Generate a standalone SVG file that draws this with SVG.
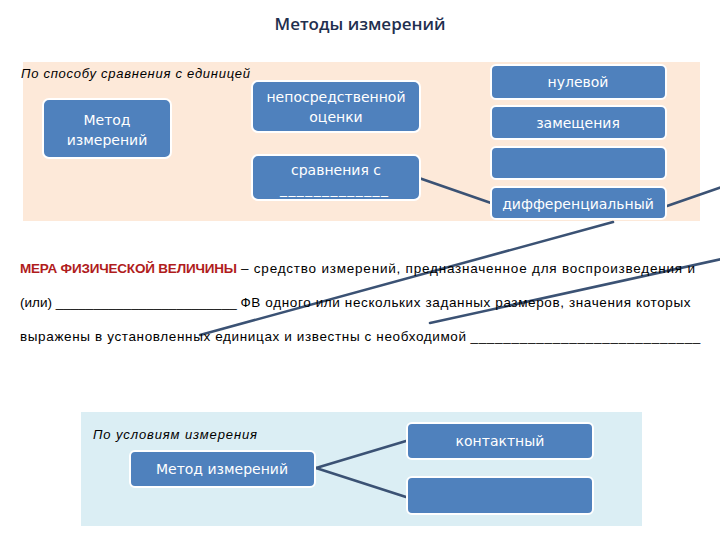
<svg xmlns="http://www.w3.org/2000/svg" width="720" height="540" viewBox="0 0 720 540">
<style>
.box{fill:#4f81bd;stroke:#ffffff;stroke-width:2}
.bt{fill:#ffffff;font-family:"DejaVu Sans",sans-serif;font-size:14px;text-anchor:middle}
.lab{fill:#000;font-family:"Liberation Sans",sans-serif;font-style:italic;font-size:13px}
.par{fill:#000;font-family:"Liberation Sans",sans-serif;font-size:13.5px}
.term{fill:#b01c1c;font-weight:bold}
.con{stroke:#3b5274;stroke-width:2.6;fill:none;stroke-linecap:round}
</style>
<rect width="720" height="540" fill="#ffffff"/>
<text x="360" y="30" text-anchor="middle" font-family="Open Sans, sans-serif" font-weight="600" font-size="16" fill="#1f2f4f" textLength="171" lengthAdjust="spacingAndGlyphs">Методы измерений</text>

<rect x="23" y="62" width="677" height="159" fill="#fde9d9"/>
<rect x="81" y="412" width="561" height="114" fill="#dbeef4"/>

<text class="lab" x="21" y="78" textLength="229">По способу сравнения с единицей</text>
<text class="lab" x="93" y="439" textLength="164">По условиям измерения</text>

<g id="connectors">
<line class="con" x1="419" y1="178" x2="491" y2="203"/>
<line class="con" x1="667" y1="206" x2="722" y2="187"/>
<line class="con" x1="613" y1="222" x2="200" y2="335"/>
<line class="con" x1="722" y1="259" x2="430" y2="323"/>
<line class="con" x1="316" y1="468" x2="406" y2="441"/>
<line class="con" x1="316" y1="468" x2="406" y2="497"/>
</g>

<g id="n-method1">
<rect class="box" x="43" y="99" width="128" height="59" rx="6"/>
<text class="bt" x="107" y="125">Метод</text>
<text class="bt" x="107" y="145">измерений</text>
</g>
<g id="n-direct">
<rect class="box" x="252" y="81" width="168" height="51" rx="6"/>
<text class="bt" x="336" y="102">непосредственной</text>
<text class="bt" x="336" y="122">оценки</text>
</g>
<g id="n-compare">
<rect class="box" x="252" y="155" width="168" height="45" rx="6"/>
<text class="bt" x="336" y="175">сравнения с</text>
<text class="bt" x="334" y="194" textLength="108">_____________</text>
</g>
<g id="n-null">
<rect class="box" x="491" y="65" width="175" height="34" rx="5"/>
<text class="bt" x="578" y="87">нулевой</text>
</g>
<g id="n-subst">
<rect class="box" x="491" y="106" width="175" height="33" rx="5"/>
<text class="bt" x="578" y="128">замещения</text>
</g>
<g id="n-empty1">
<rect class="box" x="491" y="147" width="175" height="32" rx="5"/>
</g>
<g id="n-diff">
<rect class="box" x="491" y="187" width="175" height="32" rx="5"/>
<text class="bt" x="578" y="209">дифференциальный</text>
</g>

<g id="paragraph">
<text class="par term" x="20" y="273" textLength="217">МЕРА ФИЗИЧЕСКОЙ ВЕЛИЧИНЫ</text>
<text class="par" x="241" y="273" textLength="454">– средство  измерений, предназначенное для воспроизведения и</text>
<text class="par" x="20" y="307">(или) <tspan textLength="181">________________________</tspan> <tspan textLength="450">ФВ одного или нескольких заданных размеров, значения которых</tspan></text>
<text class="par" x="20" y="341"><tspan textLength="446">выражены в установленных единицах и известны с необходимой</tspan> <tspan textLength="230">____________________________</tspan></text>
</g>

<g id="n-method2">
<rect class="box" x="130" y="451" width="185" height="36" rx="5"/>
<text class="bt" x="222" y="474" font-size="15">Метод измерений</text>
</g>
<g id="n-contact">
<rect class="box" x="407" y="423" width="186" height="36" rx="5"/>
<text class="bt" x="500" y="446">контактный</text>
</g>
<g id="n-empty2">
<rect class="box" x="407" y="477" width="186" height="37" rx="5"/>
</g>
</svg>
